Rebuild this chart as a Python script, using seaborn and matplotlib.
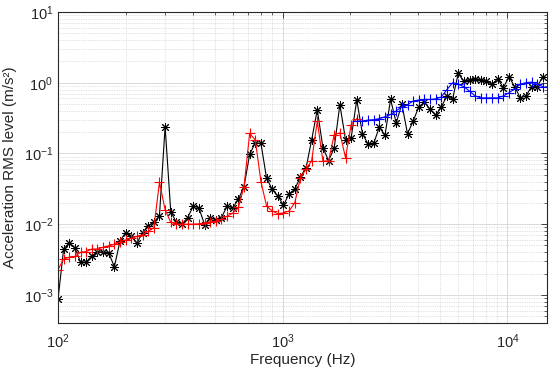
import matplotlib
matplotlib.use("Agg")
import matplotlib.pyplot as plt
import seaborn as sns
import pandas as pd

# 1/12-octave band centre frequencies (Hz)
freqs = [100.0, 105.9, 112.2, 118.9, 126.0, 133.5, 141.4, 149.8, 158.7, 168.2,
         178.2, 188.8, 200.0, 211.9, 224.5, 237.8, 252.0, 267.0, 282.8, 299.7,
         317.5, 336.4, 356.4, 377.6, 400.0, 423.8, 449.0, 475.7, 504.0, 534.0,
         565.7, 599.3, 635.0, 672.7, 712.7, 755.1, 800.0, 847.6, 898.0, 951.4,
         1008, 1068, 1131, 1199, 1270, 1345, 1425, 1510, 1600, 1695,
         1796, 1903, 2016, 2136, 2263, 2397, 2540, 2691, 2851, 3020,
         3200, 3390, 3592, 3806, 4032, 4272, 4525, 4795, 5080, 5382,
         5702, 6041, 6400, 6781, 7184, 7611, 8063, 8543, 9051, 9589,
         10159, 10764, 11404, 12082, 12800, 13561, 14368]

measured = [0.00086, 0.0044, 0.0055, 0.0046, 0.0029, 0.0029, 0.0036, 0.0040, 0.0041, 0.0039,
            0.0025, 0.0058, 0.0076, 0.0067, 0.0054, 0.0076, 0.0095, 0.0106, 0.0131, 0.24,
            0.015, 0.0106, 0.0100, 0.0124, 0.018, 0.017, 0.0098, 0.0124, 0.0115, 0.0124,
            0.018, 0.017, 0.0225, 0.034, 0.097, 0.142, 0.139, 0.0445, 0.031, 0.025,
            0.0185, 0.027, 0.031, 0.047, 0.062, 0.155, 0.415, 0.12, 0.079, 0.12,
            0.49, 0.157, 0.166, 0.57, 0.19, 0.136, 0.139, 0.235, 0.18, 0.58,
            0.27, 0.50, 0.19, 0.286, 0.457, 0.53, 0.42, 0.345, 0.457, 0.65,
            0.59, 1.35, 1.05, 1.11, 1.14, 1.11, 1.05, 0.95, 1.14, 0.85,
            1.22, 0.88, 0.61, 0.65, 0.88, 0.88, 1.22]

model_low = [0.00227, 0.0032, 0.0034, 0.0035, 0.0040, 0.0041, 0.00445, 0.00445, 0.0047, 0.00495,
             0.0052, 0.0056, 0.0060, 0.0063, 0.0067, 0.0071, 0.0079, 0.0089, 0.039, 0.016,
             0.0106, 0.0100, 0.0100, 0.0100, 0.0100, 0.0101, 0.0104, 0.0108, 0.0110, 0.0117,
             0.0130, 0.0143, 0.0172, 0.034, 0.192, 0.155, 0.040, 0.018, 0.0154, 0.0140,
             0.0144, 0.0154, 0.020, 0.045, 0.060, 0.079, 0.285, 0.078, 0.078, 0.185,
             0.195, 0.087, 0.256, 0.31]

model_high = [0.286, 0.286, 0.296, 0.30, 0.31, 0.33, 0.356, 0.40, 0.457, 0.49,
              0.55, 0.57, 0.58, 0.58, 0.59, 0.63, 0.80, 1.0, 0.95, 0.88,
              0.76, 0.65, 0.61, 0.61, 0.61, 0.61, 0.65, 0.72, 0.82, 0.95,
              1.0, 1.02, 0.95, 0.88]

df_meas = pd.DataFrame({"f": freqs, "a": measured})
df_low = pd.DataFrame({"f": freqs[:len(model_low)], "a": model_low})
df_high = pd.DataFrame({"f": freqs[len(freqs) - len(model_high):], "a": model_high})

sns.set_style("white")
plt.rcParams["font.family"] = ["Liberation Sans", "DejaVu Sans"]
plt.rcParams["mathtext.fontset"] = "custom"
plt.rcParams["mathtext.rm"] = "Liberation Sans"

fig = plt.figure(figsize=(5.5, 3.77), dpi=100)
ax = fig.add_axes([58 / 550, 1 - 323 / 377, (547 - 58) / 550, (323 - 12) / 377])

asterisk = (8, 2, 0)
sns.lineplot(data=df_meas, x="f", y="a", ax=ax, color="black", linewidth=0.8,
             marker=asterisk, markersize=6.5, markeredgecolor="black",
             markeredgewidth=0.7, sort=False, estimator=None)
sns.lineplot(data=df_low, x="f", y="a", ax=ax, color="red", linewidth=0.8,
             marker="+", markersize=7.5, markeredgecolor="red",
             markeredgewidth=0.8, sort=False, estimator=None)
sns.lineplot(data=df_high, x="f", y="a", ax=ax, color="blue", linewidth=0.8,
             marker="+", markersize=7.5, markeredgecolor="blue",
             markeredgewidth=0.8, sort=False, estimator=None)

ax.set_xscale("log")
ax.set_yscale("log")
ax.set_xlim(100, 15000)
ax.set_ylim(4e-4, 10)

ax.grid(True, which="major", color=(0.86, 0.86, 0.86), linestyle="-", linewidth=0.7)
ax.grid(True, which="minor", color=(0.78, 0.78, 0.78), linestyle=(0, (1, 1.5)), linewidth=0.5)
ax.set_axisbelow(True)

for s in ax.spines.values():
    s.set_color((0.15, 0.15, 0.15))
    s.set_linewidth(0.8)
    s.set_visible(True)

ax.tick_params(which="both", direction="in", top=True, right=True,
               colors=(0.15, 0.15, 0.15), labelsize=10.5)
ax.tick_params(which="major", length=4, width=0.6)
ax.tick_params(which="minor", length=2.2, width=0.5)
ax.tick_params(axis="x", which="major", pad=7)

ax.set_xlabel("Frequency (Hz)", fontsize=11, color=(0.15, 0.15, 0.15), labelpad=1)
ax.set_ylabel("Acceleration RMS level (m/s²)", fontsize=11, color=(0.15, 0.15, 0.15), labelpad=5)

fig.savefig("out.png", dpi=100)
